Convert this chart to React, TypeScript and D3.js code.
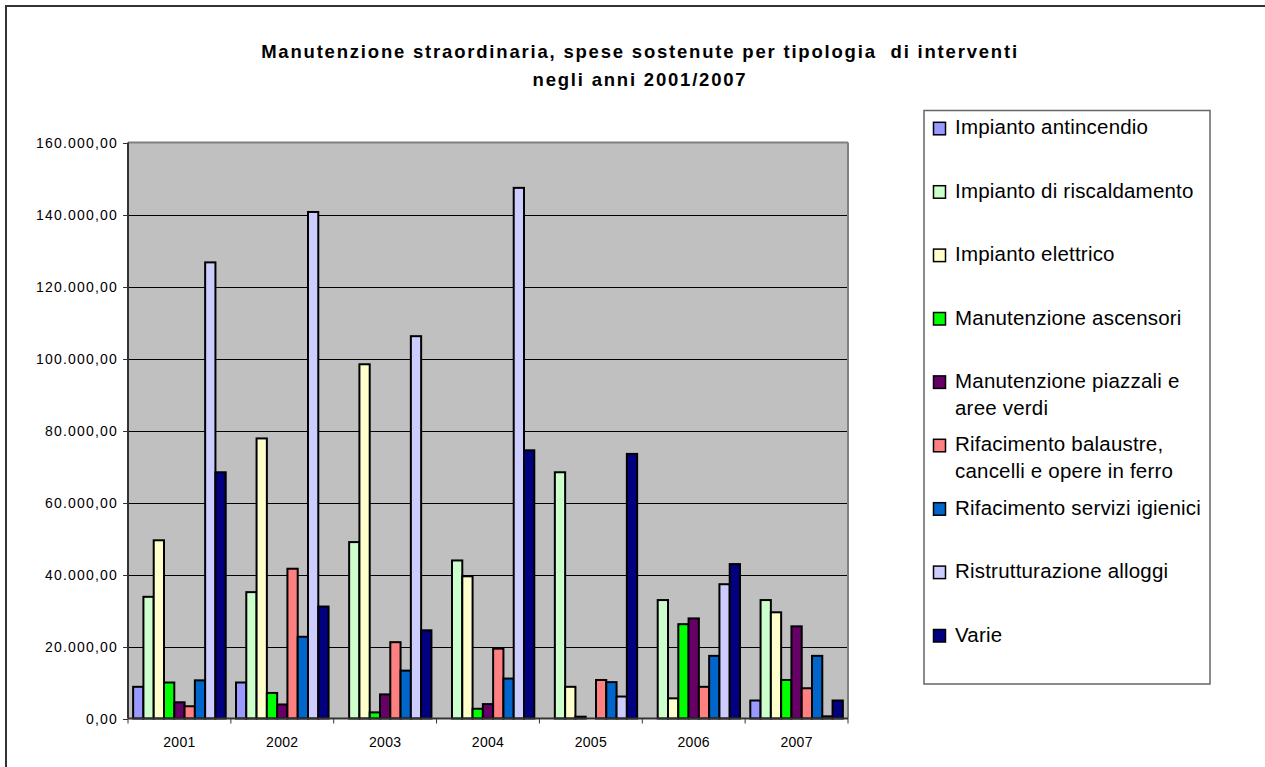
import React from "react";
import * as d3 from "d3";

const years = ["2001", "2002", "2003", "2004", "2005", "2006", "2007"];
const seriesNames = [
  ["Impianto antincendio"],
  ["Impianto di riscaldamento"],
  ["Impianto elettrico"],
  ["Manutenzione ascensori"],
  ["Manutenzione piazzali e", "aree verdi"],
  ["Rifacimento balaustre,", "cancelli e opere in ferro"],
  ["Rifacimento servizi igienici"],
  ["Ristrutturazione alloggi"],
  ["Varie"],
];
const seriesColors = ["#9999FF", "#CCFFCC", "#FFFFCC", "#00FF00", "#660066", "#FF8080", "#0066CC", "#CCCCFF", "#000080"];

const antincendio = [8800, 10000, 0, 0, 0, 0, 5000];
const riscaldamento = [33800, 35100, 49000, 43900, 68400, 32900, 32900];
const elettrico = [49500, 77800, 98400, 39500, 8800, 5600, 29500];
const ascensori = [10000, 7100, 1700, 2700, 500, 26200, 10700];
const piazzali = [4500, 3900, 6700, 4000, 0, 27800, 25600];
const balaustre = [3400, 41600, 21200, 19400, 10700, 8800, 8400];
const servizi = [10600, 22700, 13300, 11100, 10100, 17400, 17400];
const alloggi = [126700, 140700, 106200, 147400, 6100, 37300, 600];
const varie = [68400, 31100, 24500, 74500, 73500, 42900, 5000];

const seriesValues = [antincendio, riscaldamento, elettrico, ascensori, piazzali, balaustre, servizi, alloggi, varie];
const yTicks = [0, 20000, 40000, 60000, 80000, 100000, 120000, 140000, 160000];
const titleLines = ["Manutenzione straordinaria, spese sostenute per tipologia  di interventi", "negli anni 2001/2007"];

const locale = d3.formatLocale({ decimal: ",", thousands: ".", grouping: [3], currency: ["€", ""] });
const fmt = locale.format(",.2f");

export default function App() {
  const W = 1265, H = 767;
  const plot = { left: 128, right: 848, top: 142.5, bottom: 718.5 };
  const x0 = d3.scaleBand().domain(years).range([plot.left, plot.right]).paddingInner(0).paddingOuter(0);
  const groupW = x0.bandwidth();
  const x1 = d3.scaleBand().domain(seriesNames.map((_, i) => String(i))).range([groupW * 0.05, groupW * 0.95]).padding(0);
  const y = d3.scaleLinear().domain([0, 160000]).range([plot.bottom, plot.top]);
  const font = "Arial, 'Liberation Sans', sans-serif";

  const legend = { x: 924, y: 110.5, w: 286, h: 573.5, firstBase: 134.3, step: 63.4 };

  return (
    <svg width={W} height={H} style={{ position: "absolute", left: 0, top: 0, background: "#fff" }} fontFamily={font}>
      <rect x={6} y={6} width={1400} height={900} fill="#fff" stroke="#333" strokeWidth={2} />
      {titleLines.map((t, i) => (
        <text key={i} x={640} y={58 + i * 28} textAnchor="middle" fontWeight="bold" fontSize={18.5} letterSpacing={1.8} fill="#000" style={{ whiteSpace: "pre" }}>
          {t}
        </text>
      ))}
      <rect x={plot.left} y={plot.top} width={plot.right - plot.left} height={plot.bottom - plot.top} fill="#C0C0C0" />
      {yTicks.map((t) => (
        <g key={t}>
          {t > 0 && t < 160000 && (
            <line x1={plot.left} x2={plot.right} y1={Math.round(y(t)) + 0.5} y2={Math.round(y(t)) + 0.5} stroke="#000" strokeWidth={1} />
          )}
          <line x1={plot.left - 5} x2={plot.left} y1={Math.round(y(t)) + 0.5} y2={Math.round(y(t)) + 0.5} stroke="#333" strokeWidth={1} />
          <text x={118} y={y(t) + 5} textAnchor="end" fontSize={14} letterSpacing={1.2} fill="#000">
            {fmt(t)}
          </text>
        </g>
      ))}
      <line x1={plot.left} x2={plot.right} y1={plot.top} y2={plot.top} stroke="#808080" strokeWidth={2} />
      <line x1={plot.right} x2={plot.right} y1={plot.top} y2={plot.bottom} stroke="#808080" strokeWidth={2} />
      {years.map((yr, gi) =>
        seriesValues.map((vals, si) =>
          vals[gi] > 0 ? (
            <rect
              key={yr + si}
              x={(x0(yr) as number) + (x1(String(si)) as number)}
              y={y(vals[gi])}
              width={x1.bandwidth()}
              height={plot.bottom - y(vals[gi])}
              fill={seriesColors[si]}
              stroke="#000"
              strokeWidth={2}
            />
          ) : null
        )
      )}
      <line x1={plot.left} x2={plot.left} y1={plot.top} y2={plot.bottom} stroke="#333" strokeWidth={2} />
      <line x1={plot.left} x2={plot.right} y1={plot.bottom} y2={plot.bottom} stroke="#333" strokeWidth={2} />
      {years.concat(["end"]).map((yr, i) => {
        const xx = plot.left + i * groupW;
        return <line key={"xt" + i} x1={xx} x2={xx} y1={plot.bottom} y2={plot.bottom + 5} stroke="#333" strokeWidth={1} />;
      })}
      {years.map((yr) => (
        <text key={"xl" + yr} x={(x0(yr) as number) + groupW / 2} y={747} textAnchor="middle" fontSize={14} letterSpacing={0.3} fill="#000">
          {yr}
        </text>
      ))}
      <rect x={legend.x} y={legend.y} width={legend.w} height={legend.h} fill="#fff" stroke="#666" strokeWidth={1.5} />
      {seriesNames.map((lines, i) => {
        const base = legend.firstBase + i * legend.step;
        return (
          <g key={"lg" + i}>
            <rect x={933.5} y={base - 12} width={12} height={12.5} fill={seriesColors[i]} stroke="#000" strokeWidth={1.5} />
            {lines.map((ln, li) => (
              <text key={li} x={955} y={base + li * 27} fontSize={20.5} letterSpacing={0.2} fill="#000">
                {ln}
              </text>
            ))}
          </g>
        );
      })}
    </svg>
  );
}
